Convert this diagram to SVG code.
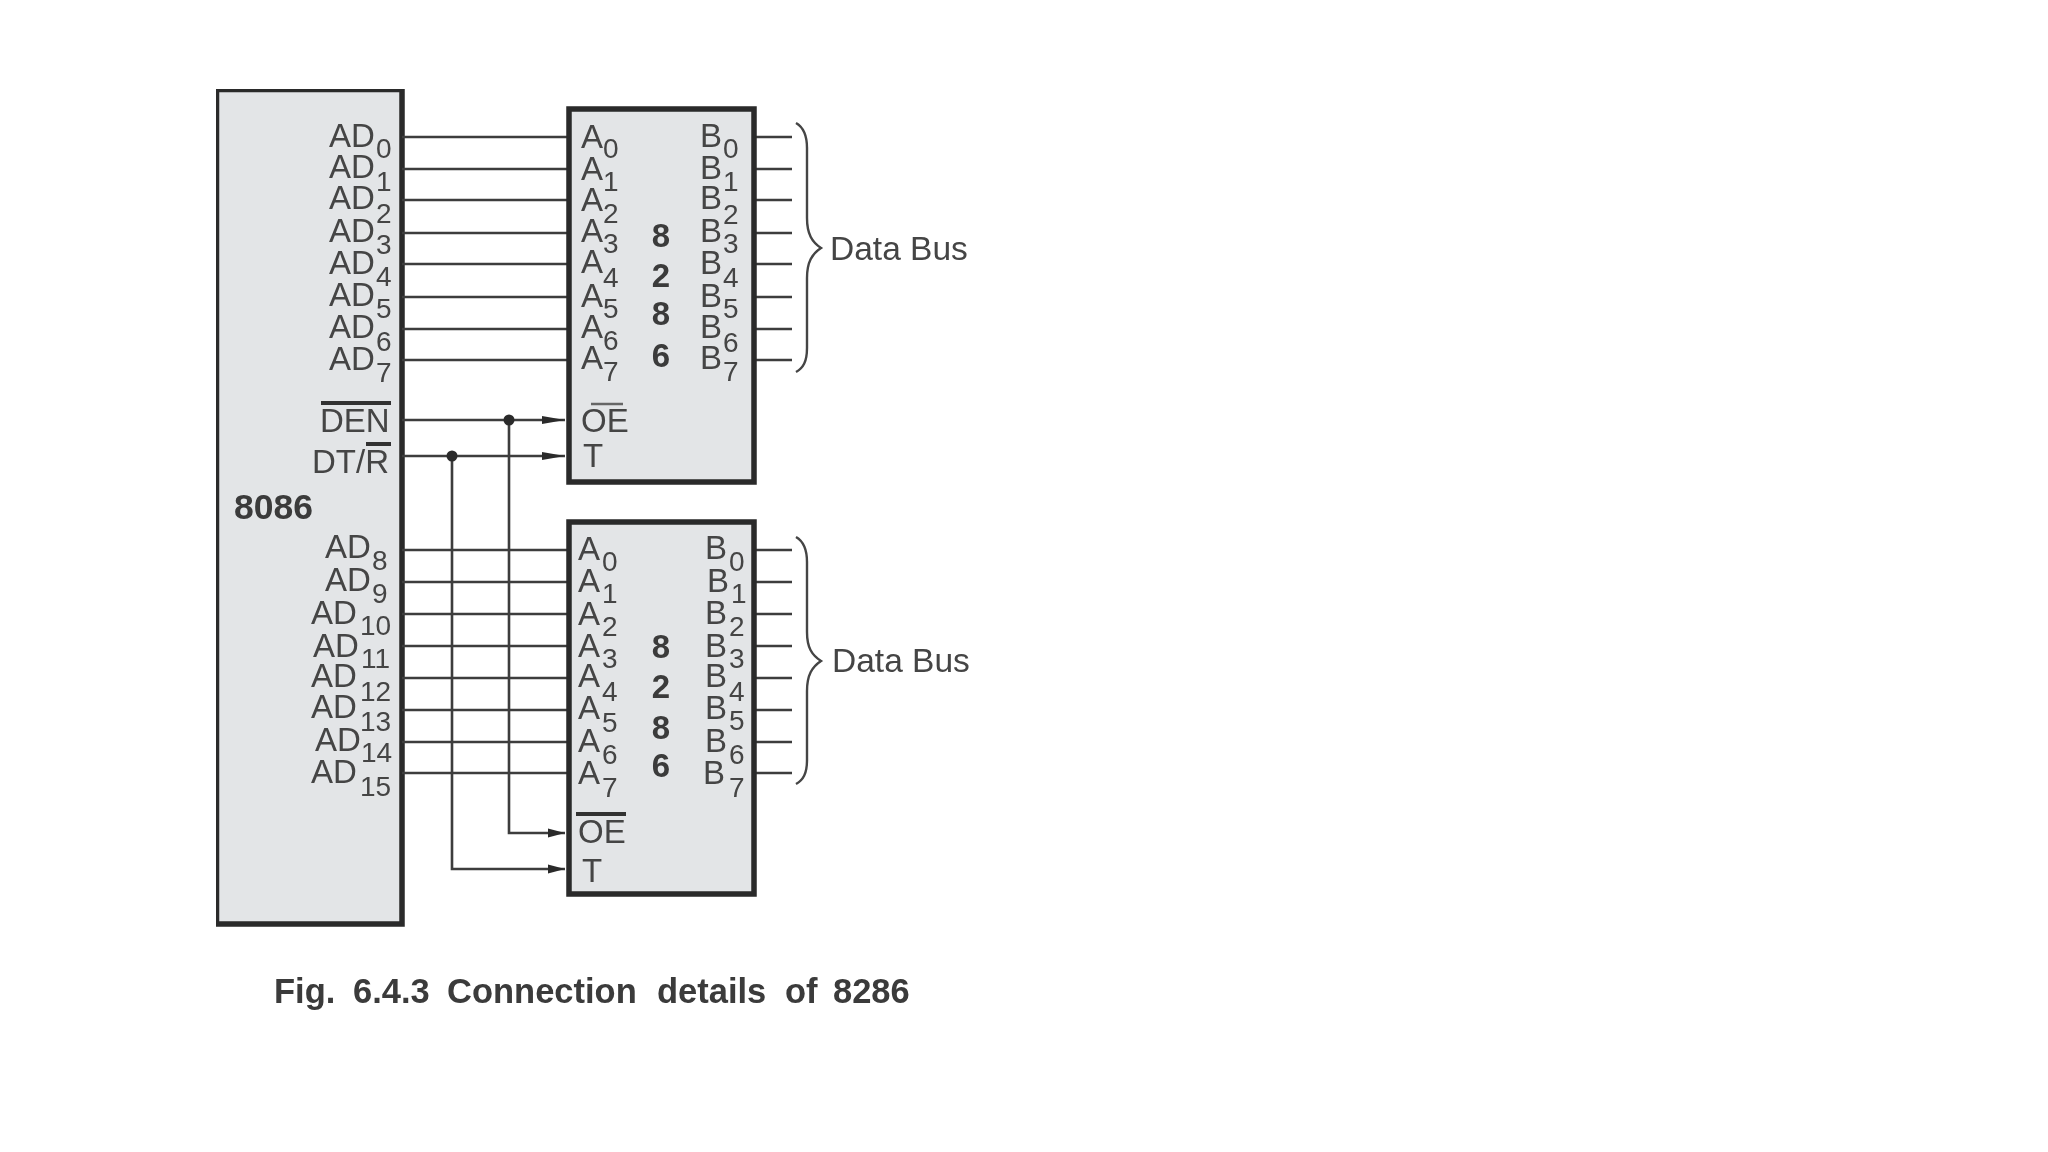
<svg xmlns="http://www.w3.org/2000/svg" width="2048" height="1152" viewBox="0 0 2048 1152">
<style>
text{font-family:"Liberation Sans",Arial,sans-serif;fill:#454545;font-size:33px}
.s{font-size:28px}
.b{font-weight:700;fill:#3a3a3a}
.n{font-size:33px;text-anchor:middle}
.box{fill:#e3e5e7;stroke:#2a2a2a;stroke-width:5.500}
.w{fill:none;stroke:#3c3c3c;stroke-width:2.600}
.bar{stroke:#333;stroke-width:4}
.br{fill:none;stroke:#444;stroke-width:2.400}
</style>
<defs>
<marker id="a" markerUnits="userSpaceOnUse" markerWidth="23" markerHeight="12" refX="23" refY="6" orient="auto"><path d="M0 2L23 6L0 10Z" fill="#2b2b2b"/></marker>
<marker id="c" markerUnits="userSpaceOnUse" markerWidth="17" markerHeight="12" refX="17" refY="6" orient="auto"><path d="M0 1.500L17 6L0 10.500Z" fill="#2b2b2b"/></marker>
<filter id="soft" x="0" y="0" width="100%" height="100%"><feGaussianBlur stdDeviation="0.7"/></filter>
</defs>
<rect width="2048" height="1152" fill="#fff"/>
<g filter="url(#soft)">
<g id="cpu8086">
<rect class="box" x="216.500" y="89.500" width="185.500" height="834.500"/>
<text class="b" x="234" y="519" style="font-size:35.500px">8086</text>
<text x="329" y="147">AD<tspan class="s" x="376" y="158">0</tspan></text>
<text x="329" y="178">AD<tspan class="s" x="376" y="191">1</tspan></text>
<text x="329" y="209">AD<tspan class="s" x="376" y="223">2</tspan></text>
<text x="329" y="242">AD<tspan class="s" x="376" y="254">3</tspan></text>
<text x="329" y="274">AD<tspan class="s" x="376" y="286">4</tspan></text>
<text x="329" y="306">AD<tspan class="s" x="376" y="318">5</tspan></text>
<text x="329" y="338">AD<tspan class="s" x="376" y="351">6</tspan></text>
<text x="329" y="370">AD<tspan class="s" x="376" y="382">7</tspan></text>
<text x="320" y="432">DEN</text>
<line class="bar" x1="321" y1="403" x2="391" y2="403"/>
<text x="312" y="473">DT/R</text>
<line class="bar" x1="366" y1="444" x2="391" y2="444"/>
<text x="325" y="558">AD<tspan class="s" x="372" y="570">8</tspan></text>
<text x="325" y="591">AD<tspan class="s" x="372" y="603">9</tspan></text>
<text x="311" y="624">AD<tspan class="s" x="360" y="635">10</tspan></text>
<text x="313" y="657">AD<tspan class="s" x="361" y="668">11</tspan></text>
<text x="311" y="687">AD<tspan class="s" x="360" y="701">12</tspan></text>
<text x="311" y="718">AD<tspan class="s" x="360" y="731">13</tspan></text>
<text x="315" y="751">AD<tspan class="s" x="361" y="762">14</tspan></text>
<text x="311" y="783">AD<tspan class="s" x="360" y="796">15</tspan></text>
</g>
<g id="connectors">
<path class="w" d="M402 137H569M402 169H569M402 200H569M402 233H569M402 264H569M402 297H569M402 329H569M402 360H569"/>
<path class="w" d="M402 550H569M402 582H569M402 614H569M402 646H569M402 678H569M402 710H569M402 742H569M402 773H569"/>
<path class="w" d="M754 137H792M754 169H792M754 200H792M754 233H792M754 264H792M754 297H792M754 329H792M754 360H792"/>
<path class="w" d="M754 550H792M754 582H792M754 614H792M754 646H792M754 678H792M754 710H792M754 742H792M754 773H792"/>
<path class="w" marker-end="url(#a)" d="M402 420H565"/>
<path class="w" marker-end="url(#a)" d="M402 456H565"/>
<path class="w" marker-end="url(#c)" d="M509 420V833H565"/>
<path class="w" marker-end="url(#c)" d="M452 456V869H565"/>
<circle cx="509" cy="420" r="5.500" fill="#2b2b2b"/>
<circle cx="452" cy="456" r="5.500" fill="#2b2b2b"/>
</g>
<g id="u8286a">
<rect class="box" x="569" y="109" width="185" height="373"/>
<text x="581" y="148">A<tspan class="s" x="603" y="158">0</tspan></text>
<text x="581" y="180">A<tspan class="s" x="603" y="191">1</tspan></text>
<text x="581" y="211">A<tspan class="s" x="603" y="223">2</tspan></text>
<text x="581" y="242">A<tspan class="s" x="603" y="253">3</tspan></text>
<text x="581" y="273">A<tspan class="s" x="603" y="287">4</tspan></text>
<text x="581" y="307">A<tspan class="s" x="603" y="318">5</tspan></text>
<text x="581" y="338">A<tspan class="s" x="603" y="350">6</tspan></text>
<text x="581" y="369">A<tspan class="s" x="603" y="381">7</tspan></text>
<text x="700" y="147">B<tspan class="s" x="723" y="158">0</tspan></text>
<text x="700" y="179">B<tspan class="s" x="723" y="191">1</tspan></text>
<text x="700" y="209">B<tspan class="s" x="723" y="224">2</tspan></text>
<text x="700" y="242">B<tspan class="s" x="723" y="253">3</tspan></text>
<text x="700" y="274">B<tspan class="s" x="723" y="287">4</tspan></text>
<text x="700" y="307">B<tspan class="s" x="723" y="318">5</tspan></text>
<text x="700" y="338">B<tspan class="s" x="723" y="352">6</tspan></text>
<text x="700" y="369">B<tspan class="s" x="723" y="381">7</tspan></text>
<text class="b n" x="661" y="247">8</text>
<text class="b n" x="661" y="287">2</text>
<text class="b n" x="661" y="325">8</text>
<text class="b n" x="661" y="367">6</text>
<text x="581" y="432">OE</text>
<line x1="591" y1="404" x2="623" y2="404" stroke="#666" stroke-width="2.500"/>
<text x="583" y="467">T</text>
</g>
<g id="u8286b">
<rect class="box" x="569" y="522" width="185" height="372"/>
<text x="578" y="560">A<tspan class="s" x="602" y="571">0</tspan></text>
<text x="578" y="592">A<tspan class="s" x="602" y="603">1</tspan></text>
<text x="578" y="625">A<tspan class="s" x="602" y="636">2</tspan></text>
<text x="578" y="657">A<tspan class="s" x="602" y="668">3</tspan></text>
<text x="578" y="687">A<tspan class="s" x="602" y="701">4</tspan></text>
<text x="578" y="719">A<tspan class="s" x="602" y="732">5</tspan></text>
<text x="578" y="752">A<tspan class="s" x="602" y="764">6</tspan></text>
<text x="578" y="784">A<tspan class="s" x="602" y="797">7</tspan></text>
<text x="705" y="559">B<tspan class="s" x="729" y="571">0</tspan></text>
<text x="707" y="592">B<tspan class="s" x="731" y="603">1</tspan></text>
<text x="705" y="624">B<tspan class="s" x="729" y="636">2</tspan></text>
<text x="705" y="657">B<tspan class="s" x="729" y="668">3</tspan></text>
<text x="705" y="687">B<tspan class="s" x="729" y="701">4</tspan></text>
<text x="705" y="719">B<tspan class="s" x="729" y="730">5</tspan></text>
<text x="705" y="752">B<tspan class="s" x="729" y="764">6</tspan></text>
<text x="703" y="784">B<tspan class="s" x="729" y="797">7</tspan></text>
<text class="b n" x="661" y="658">8</text>
<text class="b n" x="661" y="698">2</text>
<text class="b n" x="661" y="739">8</text>
<text class="b n" x="661" y="777">6</text>
<text x="578" y="843">OE</text>
<line class="bar" x1="576" y1="814" x2="626" y2="814"/>
<text x="582" y="882">T</text>
</g>
<g id="busA">
<path class="br" d="M796 123C803 127 807 134 807 148V218C807 234 812 242 821 248C812 254 807 262 807 278V348C807 362 803 368 796 372"/>
<text x="830" y="260" style="font-size:33.500px">Data Bus</text>
</g>
<g id="busB">
<path class="br" d="M796 537C803 541 807 548 807 562V632C807 648 812 655 821 661C812 667 807 675 807 691V760C807 774 803 780 796 784"/>
<text x="832" y="672" style="font-size:33.500px">Data Bus</text>
</g>
<text class="b" y="1003" style="font-size:34.500px"><tspan x="274">Fig.</tspan><tspan x="353">6.4.3</tspan><tspan x="447">Connection</tspan><tspan x="657">details</tspan><tspan x="785">of</tspan><tspan x="833">8286</tspan></text>
</g>
</svg>
